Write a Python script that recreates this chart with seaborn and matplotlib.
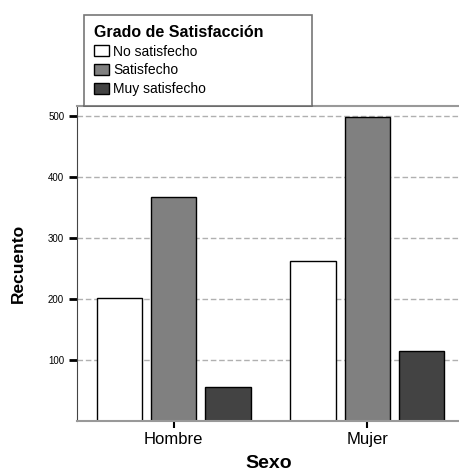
import matplotlib.pyplot as plt
import seaborn as sns
import pandas as pd

sexo = ["Hombre", "Mujer"]
grados = ["No satisfecho", "Satisfecho", "Muy satisfecho"]
hombre = [201, 368, 55]
mujer = [263, 498, 115]
colores = ["#ffffff", "#808080", "#434343"]

rows = []
for g, h, m in zip(grados, hombre, mujer):
    rows.append({"Sexo": "Hombre", "Grado": g, "Recuento": h})
    rows.append({"Sexo": "Mujer", "Grado": g, "Recuento": m})
df = pd.DataFrame(rows)

sns.set_style("white")
plt.rcParams['font.family'] = ['Liberation Sans', 'DejaVu Sans']
plt.rcParams['text.color'] = 'black'
plt.rcParams['axes.labelcolor'] = 'black'
plt.rcParams['xtick.color'] = 'black'
plt.rcParams['ytick.color'] = 'black'

fig = plt.figure(figsize=(4.6, 4.75), dpi=100)
ax = fig.add_axes([0.1667, 0.1143, 0.8333, 0.663])

sns.barplot(data=df, x="Sexo", y="Recuento", hue="Grado", order=sexo,
            hue_order=grados, palette=colores, edgecolor="black",
            linewidth=1, width=0.84, gap=0.16, ax=ax, legend=False)

ax.set_xlim(-0.5, 1.478)
ax.set_ylim(0, 517)
ax.set_yticks([100, 200, 300, 400, 500])
ax.yaxis.grid(True, linestyle=(0, (4, 2)), color="#b0b0b0", linewidth=1)
ax.set_axisbelow(True)

ax.tick_params(axis="y", direction="out", length=6, width=2, color="black",
               labelsize=7, labelcolor="black", left=True, pad=3)
ax.tick_params(axis="x", direction="out", length=5, width=1.5, color="black",
               labelsize=12, labelcolor="black", bottom=True, pad=3)

for s in ["top", "bottom"]:
    ax.spines[s].set_color("#999999")
    ax.spines[s].set_linewidth(1.5)
ax.spines["left"].set_color("#444444")
ax.spines["left"].set_linewidth(0.8)
ax.spines["right"].set_visible(False)

ax.set_xlabel("Sexo", fontsize=14, fontweight="bold", labelpad=6, color="black")
ax.set_ylabel("Recuento", fontsize=12.5, fontweight="bold", labelpad=16,
              color="black")

handles = [plt.Rectangle((0, 0), 1, 1, facecolor=c, edgecolor="black", linewidth=1)
           for c in colores]
leg = fig.legend(handles, grados, title="Grado de Satisfacción",
                 loc="upper left",
                 bbox_to_anchor=(84 / 460, 1 - 101 / 475, 228 / 460, 86 / 475),
                 mode="expand", fontsize=10, title_fontsize=11.5,
                 alignment="left", frameon=True, fancybox=False,
                 handlelength=1.1, handleheight=0.8, handletextpad=0.3,
                 labelspacing=0.35, borderpad=0.7, borderaxespad=0)
leg.get_title().set_fontweight("bold")
leg.get_frame().set_edgecolor("#555555")
leg.get_frame().set_linewidth(1.2)

fig.savefig("out.png", dpi=100)
